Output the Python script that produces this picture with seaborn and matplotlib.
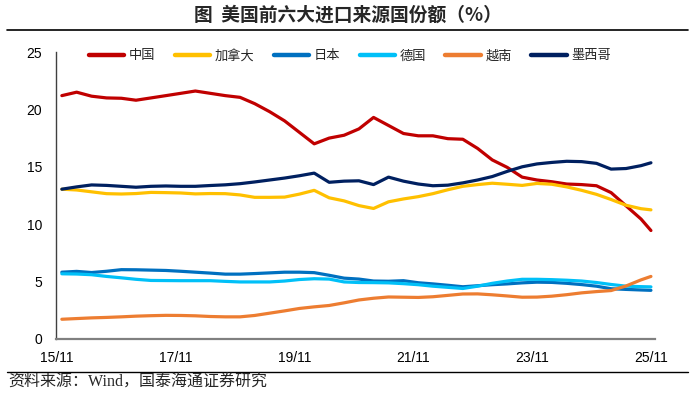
import matplotlib
matplotlib.use("Agg")
import matplotlib.pyplot as plt
import matplotlib.dates as mdates
from matplotlib.lines import Line2D
import seaborn as sns
import pandas as pd

# ---- data (share of US imports, %) ----
months = ["2015-12", "2016-03", "2016-06", "2016-09", "2016-12", "2017-03", "2017-06",
          "2017-09", "2017-12", "2018-03", "2018-06", "2018-09", "2018-12", "2019-03",
          "2019-06", "2019-09", "2019-12", "2020-03", "2020-06", "2020-09", "2020-12",
          "2021-03", "2021-06", "2021-09", "2021-12", "2022-03", "2022-06", "2022-09",
          "2022-12", "2023-03", "2023-06", "2023-09", "2023-12", "2024-03", "2024-06",
          "2024-09", "2024-12", "2025-03", "2025-06", "2025-09", "2025-11"]

china = [21.2, 21.5, 21.15, 21.0, 20.97, 20.8, 21.0, 21.2, 21.4, 21.6, 21.4, 21.2, 21.05,
         20.5, 19.8, 19.0, 18.0, 17.0, 17.5, 17.75, 18.3, 19.3, 18.6, 17.9, 17.7, 17.7,
         17.45, 17.4, 16.6, 15.6, 14.95, 14.1, 13.85, 13.7, 13.5, 13.45, 13.35, 12.75,
         11.6, 10.45, 9.45]
canada = [13.05, 12.98, 12.82, 12.66, 12.63, 12.67, 12.77, 12.75, 12.72, 12.64, 12.67,
          12.66, 12.55, 12.34, 12.34, 12.36, 12.62, 12.95, 12.3, 12.03, 11.62, 11.37,
          11.95, 12.2, 12.4, 12.66, 13.0, 13.3, 13.45, 13.57, 13.48, 13.38, 13.55, 13.48,
          13.25, 12.95, 12.6, 12.15, 11.65, 11.35, 11.25]
japan = [5.82, 5.89, 5.79, 5.9, 6.04, 6.03, 6.0, 5.97, 5.9, 5.82, 5.74, 5.65, 5.65, 5.7,
         5.76, 5.82, 5.82, 5.78, 5.55, 5.3, 5.22, 5.05, 5.03, 5.08, 4.9, 4.8, 4.68, 4.55,
         4.64, 4.73, 4.8, 4.89, 4.95, 4.93, 4.85, 4.74, 4.6, 4.38, 4.32, 4.27, 4.24]
germany = [5.68, 5.66, 5.6, 5.45, 5.33, 5.2, 5.1, 5.09, 5.08, 5.08, 5.08, 5.02, 4.97,
           4.97, 4.97, 5.05, 5.18, 5.25, 5.22, 4.97, 4.92, 4.91, 4.89, 4.82, 4.73, 4.6,
           4.5, 4.4, 4.6, 4.85, 5.05, 5.2, 5.2, 5.17, 5.12, 5.05, 4.92, 4.75, 4.6, 4.56,
           4.54]
vietnam = [1.72, 1.78, 1.84, 1.88, 1.93, 1.99, 2.03, 2.06, 2.05, 2.02, 1.96, 1.93, 1.93,
           2.05, 2.25, 2.45, 2.66, 2.8, 2.92, 3.15, 3.4, 3.55, 3.66, 3.64, 3.62, 3.68, 3.8,
           3.92, 3.93, 3.85, 3.75, 3.64, 3.65, 3.73, 3.86, 4.02, 4.13, 4.22, 4.62, 5.15,
           5.45]
mexico = [13.05, 13.25, 13.42, 13.38, 13.3, 13.22, 13.3, 13.33, 13.3, 13.3, 13.37, 13.43,
          13.53, 13.68, 13.85, 14.02, 14.22, 14.45, 13.65, 13.75, 13.78, 13.45, 14.1,
          13.75, 13.5, 13.35, 13.4, 13.6, 13.85, 14.15, 14.6, 15.0, 15.25, 15.38, 15.48,
          15.45, 15.3, 14.8, 14.85, 15.1, 15.35]

series_names = ["中国", "加拿大", "日本", "德国", "越南", "墨西哥"]
series_values = [china, canada, japan, germany, vietnam, mexico]
series_colors = ["#C00000", "#FFC000", "#0070C0", "#00C0F8", "#ED7D31", "#002060"]

y_ticks = [0, 5, 10, 15, 20, 25]
x_tick_dates = ["2015-11", "2017-11", "2019-11", "2021-11", "2023-11", "2025-11"]

title_text = "图  美国前六大进口来源国份额（%）"
source_text = "资料来源：Wind，国泰海通证券研究"

# ---- build table ----
frames = []
for name, vals in zip(series_names, series_values):
    frames.append(pd.DataFrame({"date": pd.to_datetime(months), "value": vals, "country": name}))
df = pd.concat(frames, ignore_index=True)

sns.set_style("white")
plt.rcParams["font.family"] = ["Liberation Sans", "Noto Sans CJK SC", "DejaVu Sans"]

fig = plt.figure(figsize=(6.96, 3.96), dpi=100)
ax = fig.add_axes([56 / 696, 57 / 396, (655 - 56) / 696, (339 - 52) / 396])

sns.lineplot(data=df, x="date", y="value", hue="country", hue_order=series_names,
             palette=dict(zip(series_names, series_colors)), linewidth=2.3,
             legend=False, ax=ax)

ax.set_ylim(0, 25)
ax.set_yticks(y_ticks)
ax.set_yticklabels([str(v) for v in y_ticks])
ax.set_xlim(pd.Timestamp("2015-10-26"), pd.Timestamp("2025-11-26"))
ax.set_xticks(pd.to_datetime(x_tick_dates))
ax.xaxis.set_major_formatter(mdates.DateFormatter("%y/%m"))
ax.set_xlabel("")
ax.set_ylabel("")

for s in ["top", "right"]:
    ax.spines[s].set_visible(False)
ax.spines["left"].set_color("#404040")
ax.spines["left"].set_linewidth(1.0)
ax.spines["bottom"].set_color("#808080")
ax.spines["bottom"].set_linewidth(1.6)
ax.tick_params(axis="y", direction="out", length=4, width=1, color="#404040",
               labelsize=10, pad=6, labelcolor="black")
ax.tick_params(axis="x", direction="out", length=4, width=1, color="#404040",
               labelsize=10, pad=5, labelcolor="black")
ax.grid(False)

handles = [Line2D([0], [0], color=c, lw=3.2) for c in series_colors]
fig.legend(handles, series_names, loc="center", bbox_to_anchor=(350 / 696, 1 - 56 / 396),
           ncol=6, frameon=False, handlelength=2.7, handletextpad=0.35,
           columnspacing=1.45, prop={"family": ["Noto Sans CJK SC"], "size": 9.5})

fig.text(0.5, 1 - 15 / 396, title_text, ha="center", va="center", fontsize=13.5,
         fontweight="bold", family=["Noto Sans CJK SC", "DejaVu Sans"])
fig.add_artist(Line2D([7 / 696, 688 / 696], [1 - 30 / 396, 1 - 30 / 396],
                      color="black", lw=1.2))
fig.add_artist(Line2D([7 / 696, 688 / 696], [1 - 372 / 396, 1 - 372 / 396],
                      color="black", lw=1.0))
fig.text(8 / 696, 1 - 383 / 396, source_text, ha="left", va="center", fontsize=11.5,
         family=["Liberation Serif", "Noto Sans CJK SC"])

fig.savefig("out.png", dpi=100)
